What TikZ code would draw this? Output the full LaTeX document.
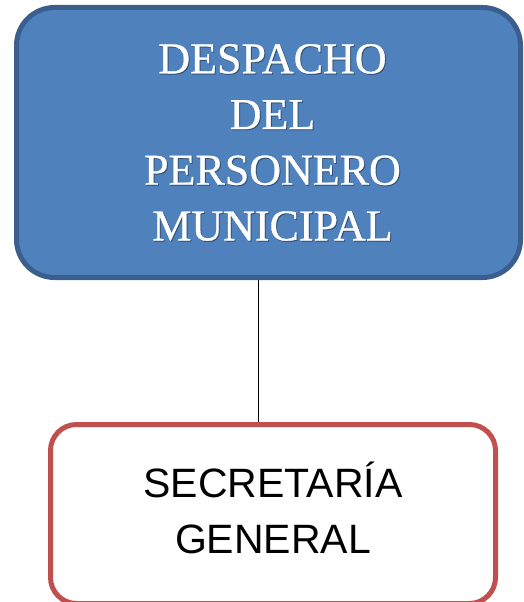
\documentclass[tikz,border=0pt]{standalone}
\usepackage{fontspec}
\setmainfont{Liberation Serif}
\newfontfamily\headfont[FakeBold=0.7]{Liberation Serif}
\newfontfamily\arialfont{Liberation Sans}
\definecolor{boxblue}{HTML}{4F81BD}
\definecolor{boxblueedge}{HTML}{3A5F8E}
\definecolor{boxred}{HTML}{C0504D}
\begin{document}
\begin{tikzpicture}[x=1pt,y=1pt,
  topbox/.style={draw=boxblueedge, fill=boxblue, line width=5pt, rounded corners=38pt,
    minimum width=504pt, minimum height=270pt, inner sep=0pt},
  secbox/.style={draw=boxred, fill=white, line width=5pt, rounded corners=26pt,
    minimum width=445pt, minimum height=179pt, inner sep=0pt},
  toptext/.style={text=white, align=center, font=\headfont\fontsize{44}{55.7}\selectfont, inner sep=0pt},
  shadowtext/.style={text=black, opacity=0.3, align=center, font=\headfont\fontsize{44}{55.7}\selectfont, inner sep=0pt},
  sectext/.style={text=black, align=center, font=\arialfont\fontsize{41}{56}\selectfont, inner sep=0pt},
  link/.style={draw=black, line width=1.5pt}]
\useasboundingbox (0,0) rectangle (524,-602);
\clip (0,0) rectangle (524,-602);
\node[topbox] (top) at (268.5,-142.5) {};
\node[secbox] (sec) at (273,-514) {};
\node[shadowtext] (topshadow) at (273.5,-143.5) {DESPACHO\\DEL\\PERSONERO\\MUNICIPAL};
\node[toptext] (toptxt) at (272.5,-142.5) {DESPACHO\\DEL\\PERSONERO\\MUNICIPAL};
\node[sectext] (sectxt) at (273,-507.5) {SECRETARÍA\\GENERAL};
\coordinate (lx) at (258.5,0);
\draw[link] (top.south -| lx) -- (sec.north -| lx);
\end{tikzpicture}
\end{document}
